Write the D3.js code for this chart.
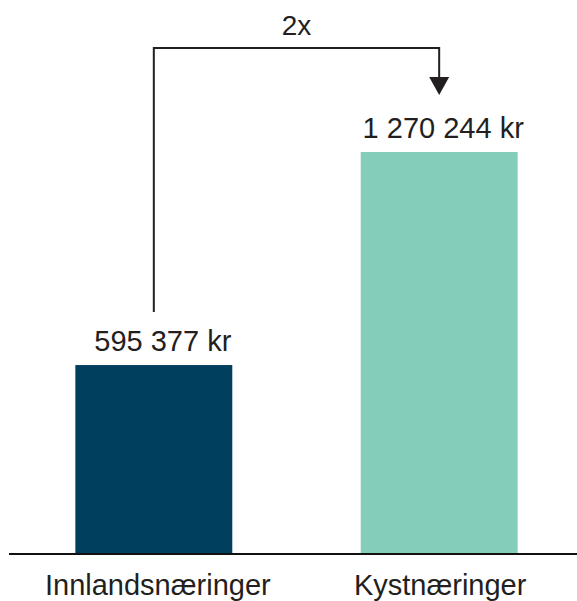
<!DOCTYPE html>
<html>
<head>
<meta charset="utf-8">
<script src="https://cdn.jsdelivr.net/npm/d3@7"></script>
<style>
  body { margin: 0; background: #fff; }
  text { font-family: "Liberation Sans", Arial, Helvetica, sans-serif; fill: #231f20; }
</style>
</head>
<body>
<div id="chart"></div>
<script>
// data
var categories = ["Innlandsnæringer", "Kystnæringer"];
var values = [595377, 1270244];
var valueLabels = ["595 377 kr", "1 270 244 kr"];
var colors = ["#013f5e", "#85cdbb"];
var ratioLabel = "2x";

var width = 577, height = 601;

var svg = d3.select("#chart").append("svg")
    .attr("width", width)
    .attr("height", height);

// scales
var x = d3.scaleBand()
    .domain(categories)
    .range([4, 589])
    .paddingInner(0.45)
    .paddingOuter(0.25);

var y = d3.scaleLinear()
    .domain([0, d3.max(values)])
    .range([553, 152]);

var data = categories.map((c, i) => ({ cat: c, val: values[i], label: valueLabels[i], color: colors[i] }));

// bars
svg.selectAll(".bar")
    .data(data)
    .enter()
    .append("rect")
    .attr("class", "bar")
    .attr("x", d => x(d.cat))
    .attr("y", d => y(d.val))
    .attr("width", x.bandwidth())
    .attr("height", d => y(0) - y(d.val))
    .attr("fill", d => d.color);

// value labels (slightly right of bar centre, as in original)
svg.selectAll(".val")
    .data(data)
    .enter()
    .append("text")
    .attr("class", "val")
    .attr("x", d => x(d.cat) + x.bandwidth() / 2)
    .attr("dx", (d, i) => i === 0 ? 9 : 4)
    .attr("y", d => y(d.val) - 14)
    .attr("text-anchor", "middle")
    .attr("font-size", 29)
    .text(d => d.label);

// baseline
svg.append("line")
    .attr("x1", 9).attr("x2", width)
    .attr("y1", y(0) + 1).attr("y2", y(0) + 1)
    .attr("stroke", "#111")
    .attr("stroke-width", 2);

// category labels (x axis)
var xAxis = svg.append("g")
    .attr("transform", "translate(0," + y(0) + ")")
    .call(d3.axisBottom(x).tickSize(0));
xAxis.select(".domain").remove();
xAxis.selectAll("text")
    .attr("y", 42)
    .attr("dy", 0)
    .attr("dx", (d, i) => i === 0 ? 4 : 1)
    .attr("font-size", 29)
    .attr("fill", "#231f20")
    .style("font-family", "'Liberation Sans', Arial, sans-serif");

// comparison arrow
var cx1 = x(categories[0]) + x.bandwidth() / 2;
var cx2 = x(categories[1]) + x.bandwidth() / 2;
var topY = 48;
var tipY = y(values[1]) - 57;
var arrowH = 18, arrowW = 10;

svg.append("path")
    .attr("d", d3.line()([[cx1, y(values[0]) - 53], [cx1, topY], [cx2, topY], [cx2, tipY - arrowH + 1]]))
    .attr("fill", "none")
    .attr("stroke", "#231f20")
    .attr("stroke-width", 2);

svg.append("path")
    .attr("d", d3.line()([[cx2 - arrowW, tipY - arrowH], [cx2 + arrowW, tipY - arrowH], [cx2, tipY]]) + "Z")
    .attr("fill", "#231f20");

svg.append("text")
    .attr("x", (cx1 + cx2) / 2)
    .attr("y", 35)
    .attr("text-anchor", "middle")
    .attr("font-size", 28)
    .text(ratioLabel);
</script>
</body>
</html>
